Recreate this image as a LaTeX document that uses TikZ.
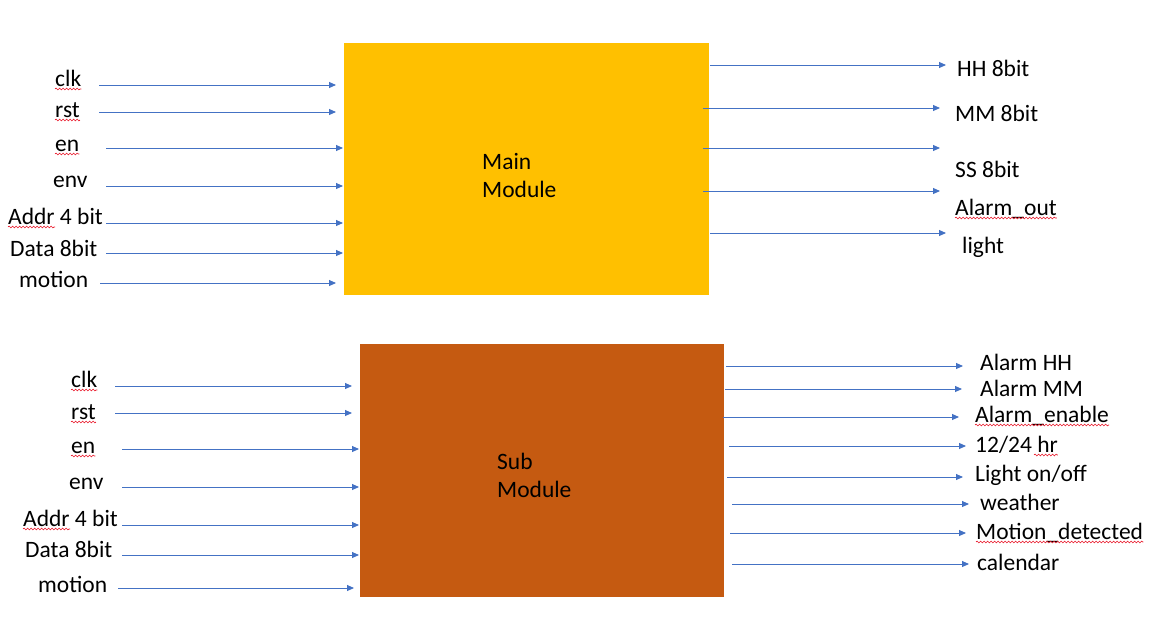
\documentclass[tikz,border=0pt]{standalone}
\usepackage{fontspec}
\setmainfont{Carlito}
\usetikzlibrary{arrows.meta,decorations.pathmorphing}
\definecolor{mainfill}{HTML}{FFC000}
\definecolor{subfill}{HTML}{C55A11}
\definecolor{sigblue}{HTML}{4472C4}
\definecolor{spellred}{HTML}{E81123}
\begin{document}
\begin{tikzpicture}[x=1pt,y=-1pt,
  sig/.style={draw=sigblue,line width=0.9pt,-{Triangle[length=7pt,width=6pt]}},
  lbl/.style={inner sep=0pt,anchor=base west,font=\fontsize{23.5}{28}\selectfont},
  blk/.style={inner sep=0pt,anchor=north west},
  spell/.style={draw=spellred,line width=0.6pt,decorate,decoration={snake,amplitude=0.9pt,segment length=3.5pt}}]
\useasboundingbox (0,0) rectangle (1155,627);
% blocks
\path[fill=mainfill] (344,43) rectangle (709,295);
\node[blk,minimum width=365pt,minimum height=252pt] (main) at (344,43) {};
\path[fill=subfill] (360,344) rectangle (724,597);
\node[blk,minimum width=364pt,minimum height=253pt] (sub) at (360,344) {};
\node[lbl] (mainA) at (482,169) {Main};
\node[lbl] (mainB) at (482,197) {Module};
\node[lbl] (subA) at (497,469) {Sub};
\node[lbl] (subB) at (497,497) {Module};
% top-left inputs
\foreach \n/\t/\tx/\ty/\xa/\xb/\y in {
  1/clk/55/86/99/336/85,
  2/rst/55/117/99/336/112,
  3/en/55/151/106/343/148,
  4/env/53/187/106/343/186,
  5/Addr 4 bit/8/224/106/343/223,
  6/Data 8bit/10/256/106/343/253,
  7/motion/19/287/100/336/283}{
  \node[lbl] (ti\n) at (\tx,\ty) {\t};
  \coordinate (tia\n) at (\xa,\y);
  \coordinate (tib\n) at (\xb,\y);
  \draw[sig] (tia\n) -- (tib\n);
}
% top-right outputs
\foreach \n/\t/\tx/\ty/\xa/\xb/\y in {
  1/HH 8bit/957/76/710/946/65,
  2/MM 8bit/955/121/703/940/108,
  3/SS 8bit/955/177/703/940/148,
  4/Alarm\_out/955/215/703/940/191,
  5/light/962/253/710/946/233}{
  \node[lbl] (to\n) at (\tx,\ty) {\t};
  \coordinate (toa\n) at (\xa,\y);
  \coordinate (tob\n) at (\xb,\y);
  \draw[sig] (toa\n) -- (tob\n);
}
% bottom-left inputs
\foreach \n/\t/\tx/\ty/\xa/\xb/\y in {
  1/clk/71/387/115/352/386,
  2/rst/71/419/115/352/413,
  3/en/71/453/122/359/449,
  4/env/69/489/122/359/487,
  5/Addr 4 bit/23/526/122/359/525,
  6/Data 8bit/25/557/122/359/555,
  7/motion/38/592/118/354/588}{
  \node[lbl] (bi\n) at (\tx,\ty) {\t};
  \coordinate (bia\n) at (\xa,\y);
  \coordinate (bib\n) at (\xb,\y);
  \draw[sig] (bia\n) -- (bib\n);
}
% bottom-right outputs
\foreach \n/\t/\tx/\ty/\xa/\xb/\y in {
  1/Alarm HH/980/370/726/963/366,
  2/Alarm MM/980/396/725/962/389,
  3/Alarm\_enable/975/422/723/959/417,
  4/12\slash 24 hr/975/452/729/966/446,
  5/Light on\slash off/975/481/727/963/477,
  6/weather/980/510/732/969/504,
  7/Motion\_detected/976/539/730/966/533,
  8/calendar/977/570/732/969/564}{
  \node[lbl] (bo\n) at (\tx,\ty) {\t};
  \coordinate (boa\n) at (\xa,\y);
  \coordinate (bob\n) at (\xb,\y);
  \draw[sig] (boa\n) -- (bob\n);
}
% spell-check underlines
\foreach \nm in {ti1,ti2,ti3,bi1,bi2,bi3,to4,bo3,bo7}{
  \draw[spell] ([yshift=-3pt]\nm.base west) -- ([yshift=-3pt]\nm.base east);
}
\draw[spell] ([yshift=-3pt]ti5.base west) -- ([shift={(47pt,-3pt)}]ti5.base west);
\draw[spell] ([yshift=-3pt]bi5.base west) -- ([shift={(47pt,-3pt)}]bi5.base west);
\draw[spell] ([shift={(-24pt,-3pt)}]bo4.base east) -- ([yshift=-3pt]bo4.base east);
\end{tikzpicture}
\end{document}
